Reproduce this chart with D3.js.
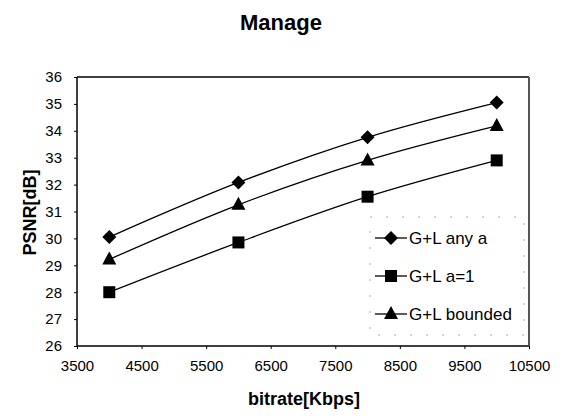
<!DOCTYPE html>
<html>
<head>
<meta charset="utf-8">
<script src="https://cdn.jsdelivr.net/npm/d3@7"></script>
<style>
  html, body { margin: 0; padding: 0; background: #fff; }
  svg text { font-family: "Liberation Sans", Arial, sans-serif; fill: #000; }
</style>
</head>
<body>
<svg id="chart" width="562" height="417"></svg>
<script>
// Bitrate (Kbps) sample points
const bitrates = [4000, 6000, 8000, 10000];
// PSNR (dB) per method
const anyA    = [30.05, 32.08, 33.76, 35.05];
const aOne    = [28.0, 29.85, 31.55, 32.9];
const bounded = [29.22, 31.25, 32.9, 34.18];
const seriesNames = ["G+L any a", "G+L a=1", "G+L bounded"];
const seriesShapes = ["diamond", "square", "triangle"];
const xTicks = [3500, 4500, 5500, 6500, 7500, 8500, 9500, 10500];
const yTicks = [26, 27, 28, 29, 30, 31, 32, 33, 34, 35, 36];

const svg = d3.select("#chart");
const plot = { left: 77, right: 529, top: 77, bottom: 346 };

const x = d3.scaleLinear().domain([3500, 10500]).range([plot.left, plot.right]);
const y = d3.scaleLinear().domain([26, 36]).range([plot.bottom, plot.top]);

// Title
svg.append("text").attr("x", 281).attr("y", 30)
  .attr("text-anchor", "middle").attr("font-size", 22).attr("font-weight", "bold")
  .text("Manage");

// Axes
const yAxis = d3.axisLeft(y).tickValues(yTicks).tickSize(3).tickPadding(12);
const gy = svg.append("g").attr("transform", `translate(${plot.left},0)`).call(yAxis);
gy.select(".domain").remove();
gy.selectAll("text").attr("font-size", 15).style("font-family", "Liberation Sans, Arial, sans-serif");

const xAxis = d3.axisBottom(x).tickValues(xTicks).tickSize(3).tickPadding(11).tickFormat(d3.format("d"));
const gx = svg.append("g").attr("transform", `translate(0,${plot.bottom})`).call(xAxis);
gx.select(".domain").remove();
gx.selectAll("text").attr("font-size", 15).style("font-family", "Liberation Sans, Arial, sans-serif");

// Plot frame
svg.append("line").attr("x1", plot.left).attr("x2", plot.right).attr("y1", plot.top).attr("y2", plot.top)
  .attr("stroke", "#000").attr("stroke-width", 1.5);
svg.append("line").attr("x1", plot.left).attr("x2", plot.right).attr("y1", plot.bottom).attr("y2", plot.bottom)
  .attr("stroke", "#000").attr("stroke-width", 1.5);
svg.append("line").attr("x1", plot.left).attr("x2", plot.left).attr("y1", plot.top).attr("y2", plot.bottom)
  .attr("stroke", "#000").attr("stroke-width", 1.5);
svg.append("line").attr("x1", plot.right).attr("x2", plot.right).attr("y1", plot.top).attr("y2", plot.bottom)
  .attr("stroke", "#555").attr("stroke-width", 2);

// Axis titles
svg.append("text").attr("transform", `translate(36,${(plot.top + plot.bottom) / 2 + 1}) rotate(-90)`)
  .attr("text-anchor", "middle").attr("font-size", 18).attr("font-weight", "bold")
  .text("PSNR[dB]");
svg.append("text").attr("x", 304).attr("y", 405)
  .attr("text-anchor", "middle").attr("font-size", 18).attr("font-weight", "bold")
  .text("bitrate[Kbps]");

// Marker drawing
function drawMarker(g, shape, cx, cy) {
  if (shape === "diamond") {
    g.append("path").attr("d", `M${cx},${cy - 7}L${cx + 7},${cy}L${cx},${cy + 7}L${cx - 7},${cy}Z`).attr("fill", "#000");
  } else if (shape === "square") {
    g.append("rect").attr("x", cx - 6).attr("y", cy - 6).attr("width", 12).attr("height", 12).attr("fill", "#000");
  } else {
    g.append("path").attr("d", `M${cx},${cy - 8}L${cx + 7},${cy + 5}L${cx - 7},${cy + 5}Z`).attr("fill", "#000");
  }
}

const allSeries = [anyA, aOne, bounded];
const line = d3.line()
  .x((d, i) => x(bitrates[i]))
  .y(d => y(d))
  .curve(d3.curveCatmullRom.alpha(0.5));

allSeries.forEach((vals, si) => {
  const g = svg.append("g");
  g.append("path").datum(vals).attr("d", line)
    .attr("fill", "none").attr("stroke", "#000").attr("stroke-width", 1.3);
  vals.forEach((v, i) => drawMarker(g, seriesShapes[si], x(bitrates[i]), y(v)));
});

// Legend
const legend = svg.append("g");
legend.append("rect").attr("x", 370).attr("y", 217).attr("width", 154).attr("height", 118)
  .attr("fill", "#fff").attr("stroke", "#aaa").attr("stroke-width", 1).attr("stroke-dasharray", "2,14");
seriesNames.forEach((name, i) => {
  const ly = 238 + i * 38;
  legend.append("line").attr("x1", 375).attr("x2", 407).attr("y1", ly).attr("y2", ly)
    .attr("stroke", "#000").attr("stroke-width", 1.3);
  drawMarker(legend, seriesShapes[i], 391, ly);
  legend.append("text").attr("x", 409).attr("y", ly + 6).attr("font-size", 17).text(name);
});
</script>
</body>
</html>
